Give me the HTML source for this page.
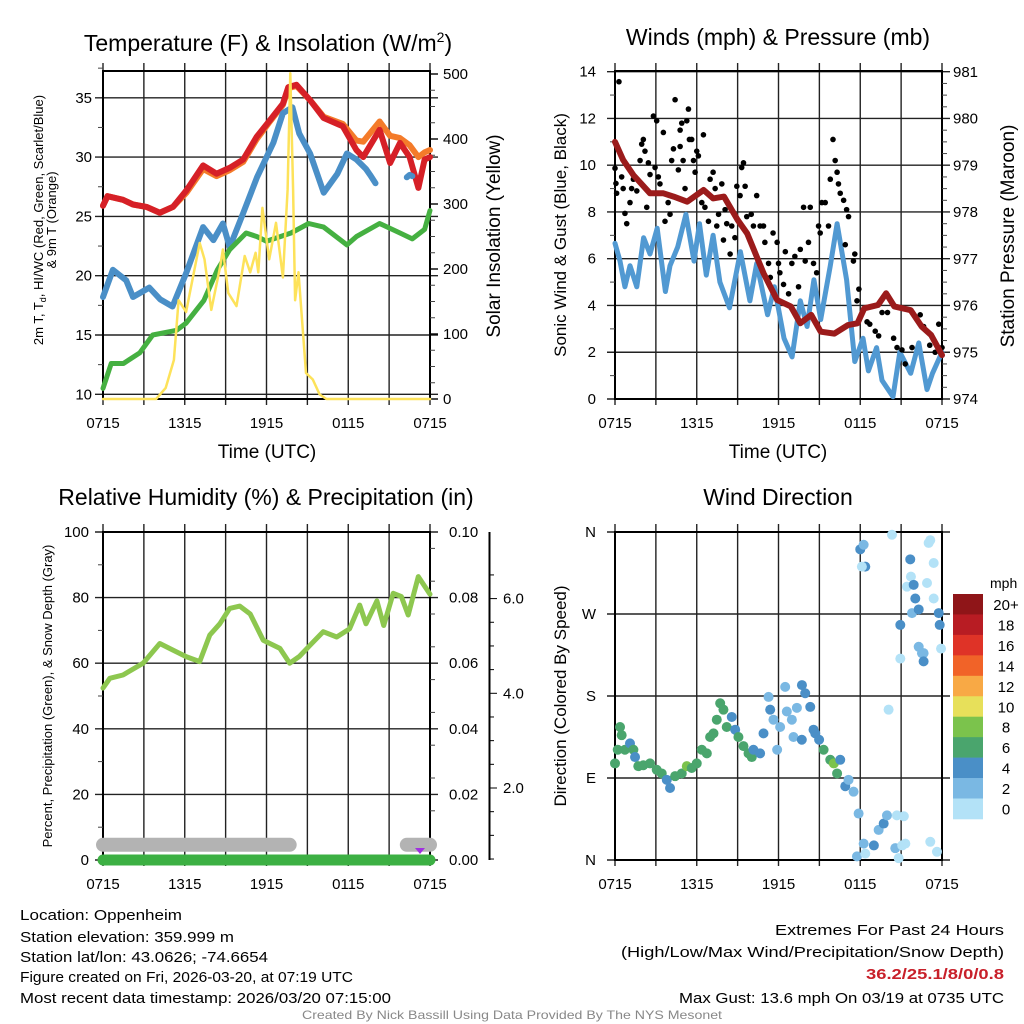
<!DOCTYPE html>
<html><head><meta charset="utf-8"><style>
html,body{margin:0;padding:0;background:#fff}
svg{display:block;font-family:"Liberation Sans",sans-serif}
</style></head><body>
<svg id="chart" width="1024" height="1024" viewBox="0 0 1024 1024" xmlns="http://www.w3.org/2000/svg">
<rect x="0" y="0" width="1024" height="1024" fill="#fff"/>
<!-- titles -->
<text x="268" y="51" font-size="23" text-anchor="middle">Temperature (F) &amp; Insolation (W/m<tspan font-size="14" dy="-9">2</tspan><tspan dy="9">)</tspan></text>
<text x="778" y="45" font-size="23" text-anchor="middle">Winds (mph) &amp; Pressure (mb)</text>
<text x="266" y="505" font-size="23" text-anchor="middle">Relative Humidity (%) &amp; Precipitation (in)</text>
<text x="778" y="505" font-size="23" text-anchor="middle">Wind Direction</text>
<!-- axis titles -->
<text font-size="13" text-anchor="middle" transform="translate(43,220) rotate(-90)">2m T, T<tspan font-size="9" dy="3">d</tspan><tspan dy="-3">, HI/WC (Red, Green, Scarlet/Blue)</tspan></text>
<text font-size="13" text-anchor="middle" transform="translate(56,220) rotate(-90)">&amp; 9m T (Orange)</text>
<text font-size="19" text-anchor="middle" transform="translate(500,236) rotate(-90)">Solar Insolation (Yellow)</text>
<text font-size="17" text-anchor="middle" transform="translate(566,235) rotate(-90)">Sonic Wind &amp; Gust (Blue, Black)</text>
<text font-size="19" text-anchor="middle" transform="translate(1014,236) rotate(-90)">Station Pressure (Maroon)</text>
<text font-size="13" text-anchor="middle" transform="translate(52,696) rotate(-90)">Percent, Precipitation (Green), &amp; Snow Depth (Gray)</text>
<text font-size="17" text-anchor="middle" transform="translate(566,696) rotate(-90)">Direction (Colored By Speed)</text>
<text x="267" y="458" font-size="19" text-anchor="middle">Time (UTC)</text>
<text x="778" y="458" font-size="19" text-anchor="middle">Time (UTC)</text>
<!-- footer -->
<g font-size="15" fill="#000">
<text x="20" y="920" textLength="162" lengthAdjust="spacingAndGlyphs">Location: Oppenheim</text>
<text x="20" y="942" textLength="214" lengthAdjust="spacingAndGlyphs">Station elevation: 359.999 m</text>
<text x="20" y="962" textLength="248" lengthAdjust="spacingAndGlyphs">Station lat/lon: 43.0626; -74.6654</text>
<text x="20" y="982" textLength="333" lengthAdjust="spacingAndGlyphs">Figure created on Fri, 2026-03-20, at 07:19 UTC</text>
<text x="20" y="1003" textLength="371" lengthAdjust="spacingAndGlyphs">Most recent data timestamp: 2026/03/20 07:15:00</text>
<text x="775" y="935" textLength="229" lengthAdjust="spacingAndGlyphs">Extremes For Past 24 Hours</text>
<text x="621" y="957" textLength="383" lengthAdjust="spacingAndGlyphs">(High/Low/Max Wind/Precipitation/Snow Depth)</text>
<text x="866" y="979" textLength="138" lengthAdjust="spacingAndGlyphs" fill="#c8202a" font-weight="bold">36.2/25.1/8/0/0.8</text>
<text x="679" y="1003" textLength="325" lengthAdjust="spacingAndGlyphs">Max Gust: 13.6 mph On 03/19 at 0735 UTC</text>
</g>
<text x="302" y="1019" font-size="12" fill="#888" textLength="420" lengthAdjust="spacingAndGlyphs">Created By Nick Bassill Using Data Provided By The NYS Mesonet</text>
<g id="layer"></g>
</svg>
<script>
// ---------- DATA ----------
const timeLabels = ["0715","1315","1915","0115","0715"];
// Temperature panel (hours since 0715 UTC)
const tempHours = [0,0.33,1.47,2.2,3.19,4.17,5.14,6.13,7.35,8.33,9.31,10.29,11.27,12.25,13.2,13.6,14.2,15.2,16.2,17.6,18.6,19.1,20.3,21.07,21.8,22.5,23.15,23.6,24];
const temp2m = [25.9,26.7,26.4,26.0,25.8,25.3,25.8,27.2,29.3,28.6,29.1,29.8,31.7,33.1,34.5,35.9,36.1,34.8,33.3,32.6,30.6,30.0,32.3,29.5,31.2,30.0,27.4,29.8,30.0];
const temp9m = [25.9,26.7,26.4,26.0,25.8,25.3,25.8,27.0,29.0,28.4,28.9,29.6,31.5,33.0,34.4,35.8,36.0,34.8,33.4,32.8,31.4,31.3,33.0,31.8,31.6,31.0,30.0,30.4,30.6];
const wcHours = [0,0.73,1.7,2.2,3.4,4.2,5.1,6.1,7.35,8.1,8.8,9.3,10.3,11.3,12.5,13.2,13.9,14.4,15.2,16.2,17.2,17.9,18.6,19.3,19.6,20.0,20.1,22.3,22.5,22.7,22.8];
const windChill = [18.2,20.5,19.6,18.2,19.0,18.0,17.4,20.2,24.1,23.0,24.4,22.4,25.3,28.3,31.2,33.7,34.2,32.0,30.3,27.0,28.6,30.3,29.8,29.0,28.5,27.8,null,28.3,28.5,28.4,null];
const dewHours = [0,0.6,1.5,2.7,3.65,5.4,6.1,7.4,8.4,9.3,10.5,11.3,12,13.8,15.1,16.2,17.9,18.6,20.3,21.8,22.7,23.6,24];
const dewPoint = [10.5,12.6,12.6,13.5,15.0,15.4,16.0,17.9,20.5,22.2,23.6,23.3,22.9,23.6,24.4,24.1,22.6,23.3,24.4,23.6,23.1,23.9,25.5];
const solarHours = [0,3.9,4.6,5.2,5.55,6.1,7.1,7.45,7.95,8.6,8.8,9.2,9.8,10.4,10.8,11.2,11.4,11.7,12.2,12.7,13.2,13.55,13.75,13.95,14.1,14.35,14.9,15.4,15.9,16.4,24];
const solar = [0,0,17,60,152,134,240,215,137,204,230,163,143,220,195,225,195,294,215,271,187,322,501,322,152,195,40,30,7,0,0];
// Winds panel
const pressHours = [0,0.6,1.35,2.57,3.55,4.3,5.3,6.5,7.2,8,9,9.7,10.9,11.9,12.9,13.6,14.4,15.1,16.1,17.1,17.8,18.3,19.3,19.9,20.5,21.7,22.5,23.2,24];
const pressure = [979.5,979.11,978.79,978.4,978.4,978.33,978.22,978.47,978.29,978.33,977.83,977.54,976.69,976.12,975.98,975.62,975.8,975.44,975.4,975.58,975.62,975.94,976.01,976.26,975.98,975.9,975.55,975.37,974.94];
const windHours = [0,0.37,0.73,1.1,1.6,2.1,2.57,3.1,3.7,4.04,4.6,5.2,5.8,6.2,6.7,7.2,7.7,8.4,9.2,9.9,10.4,11.2,11.7,12.4,13,13.6,14.1,14.6,15.1,15.8,16.3,17,17.6,18.2,18.6,19.2,19.6,20.4,20.9,21.7,22.3,22.9,23.3,24];
const windSpeed = [6.66,5.9,4.8,5.7,4.8,6.9,6.2,7.3,4.6,5.7,6.5,7.9,5.9,7.5,5.3,7.0,5.0,3.9,6.3,4.2,5.8,3.6,4.8,2.6,1.8,4.2,3.1,5.1,3.4,5.7,7.5,5.1,1.6,2.6,1.2,2.2,0.8,0.1,2.0,1.1,2.4,0.4,1.1,2.0];
const gustHours = [0.29,0,0.07,0.12,0.49,0.6,0.73,0.86,1.1,1.35,1.6,1.22,1.84,1.96,2.08,2.2,2.33,2.45,2.57,2.82,3.06,2.94,3.18,3.3,3.55,3.67,3.9,4.04,4.16,4.29,4.41,4.65,4.78,4.9,4.78,5.0,5.14,5.27,5.39,5.46,5.63,5.76,5.88,6.0,6.12,6.49,6.37,6.6,6.86,6.98,7.2,7.35,7.47,7.6,7.84,7.96,8.08,8.2,8.45,8.57,8.8,8.94,9.18,9.3,9.43,9.55,9.67,10.0,10.16,10.4,10.65,10.9,11.0,11.27,11.4,11.6,11.9,12.0,12.1,12.37,12.5,12.74,12.98,13.2,13.47,13.6,13.84,13.96,14.2,14.33,14.57,14.8,14.94,15.06,15.18,15.43,15.67,15.8,16.0,16.16,16.3,16.4,16.53,16.78,17.0,17.14,16.9,17.5,17.6,17.9,17.76,18.5,18.7,19.1,19.35,19.6,20.0,20.45,20.7,21.06,21.3,21.8,22.4,22.65,23.1,23.5,23.76,24];
const gustSpeed = [13.57,9.87,9.22,8.8,9.5,9.0,7.94,7.5,8.4,9.4,8.9,9.0,10.2,10.9,11.1,10.6,8.2,10.1,9.6,12.1,11.9,9.9,9.5,9.2,11.4,7.6,8.4,7.9,10.2,10.7,12.8,9.8,11.5,11.8,10.8,10.2,9.0,11.9,12.4,11.1,11.1,10.2,9.7,10.6,10.4,11.3,8.4,8.2,7.6,9.4,9.7,9.0,7.4,7.9,9.2,6.8,8.1,7.5,6.2,7.4,6.9,9.1,8.7,9.9,10.1,9.1,7.8,7.9,7.4,8.7,7.4,7.4,6.7,5.8,5.2,7.1,6.7,5.8,5.4,4.9,6.3,4.5,5.8,6.1,4.8,6.4,8.2,5.9,6.7,8.2,5.8,5.4,7.4,7.1,8.4,8.4,7.4,9.4,11.1,10.2,9.7,9.2,8.8,8.5,8.1,7.8,6.6,5.9,6.2,4.7,4.2,3.3,3.2,2.9,2.7,3.7,3.7,2.6,2.2,2.1,1.5,2.2,3.6,3.1,2.3,2.0,3.2,2.2];
// Humidity panel
const rhHours = [0,0.5,1.47,2.94,4.17,5.14,6.1,7.1,7.84,8.57,9.3,10.04,10.8,11.76,12.98,13.7,14.4,15.2,16.16,17.15,18.1,18.84,19.3,20.1,20.6,21.3,21.9,22.4,23.14,24];
const humidity = [52.4,55.4,56.4,60,66,64,62,60.5,68.6,72,76.7,77.4,75,67,64.5,60,62,65.5,69.6,68,70.5,77.7,72,79,71.5,81.3,80.3,74.7,86.4,81];
const precipHours = [0,24];
const precip = [0,0];
const snowHours = [0,13.7,13.8,22.2,22.3,24];
const snowDepth = [0.8,0.8,null,null,0.8,0.8];
// Wind direction panel
const dirHours = [0,0.2,0.37,0.49,0.73,1.1,1.35,1.47,1.71,2.08,2.57,3.06,3.43,3.8,4.04,4.41,4.9,5.27,5.63,6.0,6.37,6.74,6.98,7.23,7.47,7.72,7.96,8.2,8.57,8.82,9.06,9.43,9.8,10.04,10.16,10.65,10.9,11.27,11.39,11.63,11.9,12.12,12.49,12.61,12.98,13.1,13.35,13.71,13.72,13.96,14.33,14.57,14.7,14.98,15.31,15.8,16.06,16.3,16.53,16.9,17.14,17.51,17.88,17.76,18.0,18.25,18.37,18.12,18.37,18.25,19.0,19.35,19.72,19.96,20.08,20.33,20.57,20.69,20.82,21.08,21.2,21.31,21.8,20.94,20.94,21.43,21.67,21.72,21.92,22.04,22.29,22.29,22.53,22.65,22.9,23.02,23.14,23.39,23.39,23.63,23.76,23.83,23.93,23.14,22.65];
const dirDeg = [106,121,146,137,121,128,121,113,103,104,106,99,95,88,79,92,95,103,101,106,121,117,135,139,154,172,165,146,157,143,135,125,117,113,121,117,139,179,165,154,121,146,190,163,154,135,167,132,192,183,168,143,139,132,121,110,106,95,110,81,88,75,51,4,341,346,322,322,7,18,16,33,40,49,165,357,13,49,2,16,48,18,271,258,221,300,330,311,302,287,275,234,227,227,304,348,351,326,287,9,271,258,232,20,218];
const dirSpeed = [6,6,6,6,6,4,6,4,6,6,6,6,6,4,4,6,6,8,6,6,6,6,6,6,6,6,6,6,4,4,6,6,6,6,4,4,4,2,4,2,2,2,2,2,2,2,2,4,4,4,4,4,4,4,6,6,8,6,4,4,2,2,2,2,4,2,4,0,0,2,4,2,4,2,0,0,2,0,0,0,0,0,2,4,0,0,4,0,4,4,4,2,2,2,0,0,0,0,0,0,4,4,0,0,4];
const speedBins = ["20+","18","16","14","12","10","8","6","4","2","0"];
const speedColors = ["#8f1518","#b81c23","#df3327","#f16328","#f8a945","#e7e05a","#7bc34c","#4aa56d","#4a8fc7","#7ab8e3","#b3e2f7"];
// tick label arrays
const tempTicks = [10,15,20,25,30,35];
const solarTicks = [0,100,200,300,400,500];
const windTicks = [0,2,4,6,8,10,12,14];
const pressTicks = [974,975,976,977,978,979,980,981];
const rhTicks = [0,20,40,60,80,100];
const precipTicks = ["0.00","0.02","0.04","0.06","0.08","0.10"];
const snowTicks = [2,4,6];
const dirTicks = ["N","E","S","W","N"];

// ---------- SCALES ----------
const NS = "http://www.w3.org/2000/svg";
const layer = document.getElementById("layer");
const P1 = {l:103,r:430,t:71,b:399}, P2 = {l:615,r:942,t:71,b:399}, P3 = {l:103,r:430,t:532,b:860}, P4 = {l:615,r:942,t:532,b:860};
function xH(p, h){ return p.l + (p.r - p.l) * h / 24; }
const yT = v => 394.3 - (v - 10) * 11.86;
const yS = v => 399 - v * 0.65;
const yW = v => 399 - v * 23.38;
const yP = v => 399 - (v - 974) * 46.75;
const yRH = v => 860 - v * 3.28;
const yPr = v => 860 - v * 3280;
const ySn = v => 882.7 - v * 47.35;
const yD = v => 860 - v * 0.9111;

function el(tag, attrs, parent){
  const e = document.createElementNS(NS, tag);
  for (const k in attrs) e.setAttribute(k, attrs[k]);
  (parent || layer).appendChild(e);
  return e;
}
function pathD(p, hs, vs, yf){
  let d = "", pen = false;
  for (let i = 0; i < hs.length; i++){
    if (vs[i] === null){ pen = false; continue; }
    d += (pen ? "L" : "M") + xH(p, hs[i]).toFixed(1) + "," + yf(vs[i]).toFixed(1);
    pen = true;
  }
  return d;
}

// ---------- FRAMES, GRIDS, TICKS ----------
function frame(p, name, hTicksY){
  const g = el("g", {});
  
  
  for (let i = 0; i <= 8; i++){
    const x = xH(p, i * 3);
    const gl = el("line", {x1:x, x2:x, y1:p.t - 8, y2:p.b + 6, stroke:"#222", "stroke-width":1.4}, g);
    
    
  }
  hTicksY.forEach(y => {
    const hl = el("line", {x1:p.l - 8, x2:p.r + 8, y1:y, y2:y, stroke:"#222", "stroke-width":1.4}, g);
    
    
  });
  const bx = el("rect", {x:p.l, y:p.t, width:p.r - p.l, height:p.b - p.t, fill:"none", stroke:"#000", "stroke-width":2}, g);
  
  
  timeLabels.forEach((lab, i) => {
    const t = el("text", {x:xH(p, i * 6), y:p.b + 29, "font-size":15, "text-anchor":"middle"}, g);
    t.textContent = lab;
    
    
  });
  return g;
}
function labels(g, vals, yf, x, anchor, fmt){
  vals.forEach(v => {
    const t = el("text", {x:x, y:yf(v) + 5, "font-size":15, "text-anchor":anchor}, g);
    t.textContent = fmt ? fmt(v) : v;
    
    
  });
}
function minor(g, p, vals, yf, side){
  vals.forEach(v => {
    const y = yf(v), x = side === "l" ? p.l : p.r;
    const m = el("line", {x1:x, x2:side === "l" ? x - 5 : x + 5, y1:y, y2:y, stroke:"#444", "stroke-width":1}, g);
    
    
  });
}

// Panel 1
const g1 = frame(P1, "temperature", tempTicks.map(yT));
labels(g1, tempTicks, yT, 92, "end");
labels(g1, solarTicks, yS, 443, "start");
minor(g1, P1, [12.5,17.5,22.5,27.5,32.5,37.5], yT, "l");
minor(g1, P1, [25,50,75,125,150,175,225,250,275,325,350,375,425,450,475], yS, "r");
solarTicks.forEach(v => { const tk = el("line",{x1:P1.r,x2:P1.r+8,y1:yS(v),y2:yS(v),stroke:"#000","stroke-width":1.4},g1);   });
// Panel 2
const g2 = frame(P2, "winds", windTicks.map(yW));
labels(g2, windTicks, yW, 596, "end");
labels(g2, pressTicks, yP, 953, "start");
minor(g2, P2, [1,3,5,7,9,11,13], yW, "l");
minor(g2, P2, [974.25,974.5,974.75,975.25,975.5,975.75,976.25,976.5,976.75,977.25,977.5,977.75,978.25,978.5,978.75,979.25,979.5,979.75,980.25,980.5,980.75], yP, "r");
// Panel 3
const g3 = frame(P3, "humidity", rhTicks.map(yRH));
labels(g3, rhTicks, yRH, 89, "end");
precipTicks.forEach((lab, i) => {
  const t = el("text", {x:449, y:yRH(i * 20) + 5, "font-size":15}, g3);
  t.textContent = lab;
  
  
});
minor(g3, P3, [10,30,50,70,90], yRH, "l");
minor(g3, P3, [5,15,25,35,45,55,65,75,85,95], yRH, "r");
const snowAxis = el("line", {x1:489.5, x2:489.5, y1:532, y2:860, stroke:"#000", "stroke-width":2});


[0.5,1,1.5,2,2.5,3,3.5,4,4.5,5,5.5,6,6.5].forEach(v => {
  const mj = snowTicks.includes(v);
  const tk = el("line", {x1:489.5, x2:mj ? 497 : 494, y1:ySn(v), y2:ySn(v), stroke:"#000", "stroke-width":1});
  
  
});
snowTicks.forEach(v => {
  const t = el("text", {x:503, y:ySn(v) + 5, "font-size":15});
  t.textContent = v.toFixed(1);
  
  
});
// Panel 4
const g4 = frame(P4, "direction", [0,90,180,270,360].map(yD));
dirTicks.forEach((lab, i) => {
  const t = el("text", {x:596, y:yD(i * 90) + 5, "font-size":15, "text-anchor":"end"}, g4);
  t.textContent = lab;
  
  
});

// ---------- SERIES ----------
function clip(p, id){
  const c = el("clipPath", {id:id});
  el("rect", {x:p.l - 8, y:p.t - 2, width:p.r - p.l + 16, height:p.b - p.t + 12}, c);
}
clip(P1, "c1"); clip(P2, "c2"); clip(P3, "c3"); clip(P4, "c4");
function line(p, hs, vs, yf, color, w, clipId){
  const e = el("path", {d:pathD(p, hs, vs, yf), fill:"none", stroke:color, "stroke-width":w, "stroke-linejoin":"round", "stroke-linecap":"round", "clip-path":"url(#" + clipId + ")"});
  return e;
}
const s9 = line(P1, tempHours, temp9m, yT, "#f47b2a", 6, "c1");


const s2 = line(P1, tempHours, temp2m, yT, "#d62027", 6, "c1");


const swc = line(P1, wcHours, windChill, yT, "#4a8fc7", 6, "c1");


const sdp = line(P1, dewHours, dewPoint, yT, "#45b041", 5, "c1");


const ssol = line(P1, solarHours, solar, yS, "#fde25a", 2.5, "c1");



const sw = line(P2, windHours, windSpeed, yW, "#5199d2", 5, "c2");


gustHours.forEach((h, i) => {
  const c = el("circle", {cx:xH(P2, h), cy:yW(gustSpeed[i]), r:2.8, fill:"#000"});
  
  
});
const sp = line(P2, pressHours, pressure, yP, "#9b1b1b", 6, "c2");



const ssn = line(P3, snowHours, snowDepth, ySn, "#b3b3b3", 14, "c3");


const spr = el("path", {d:pathD(P3, precipHours, precip, yPr), stroke:"#3cb043", "stroke-width":11, "stroke-linecap":"round", fill:"none"});


const srh = line(P3, rhHours, humidity, yRH, "#8dc74f", 5, "c3");


const mk = el("path", {d:"M415,848 L425,848 L420,854 Z", fill:"#a030e0"});



dirHours.forEach((h, i) => {
  const idx = speedBins.indexOf(String(dirSpeed[i]));
  const c = el("circle", {cx:xH(P4, h), cy:yD(dirDeg[i]), r:5, fill:speedColors[idx]});
  
  
});

// colorbar
const mph = el("text", {x:990, y:588, "font-size":14});
mph.textContent = "mph";


speedBins.forEach((lab, i) => {
  const y = 594 + i * 20.45;
  const r = el("rect", {x:953, y:y, width:30, height:20.8, fill:speedColors[i]});
  
  
  const t = el("text", {x:1006, y:y + 16, "font-size":15, "text-anchor":"middle"});
  t.textContent = lab;
  
  
});
</script>
</body></html>
